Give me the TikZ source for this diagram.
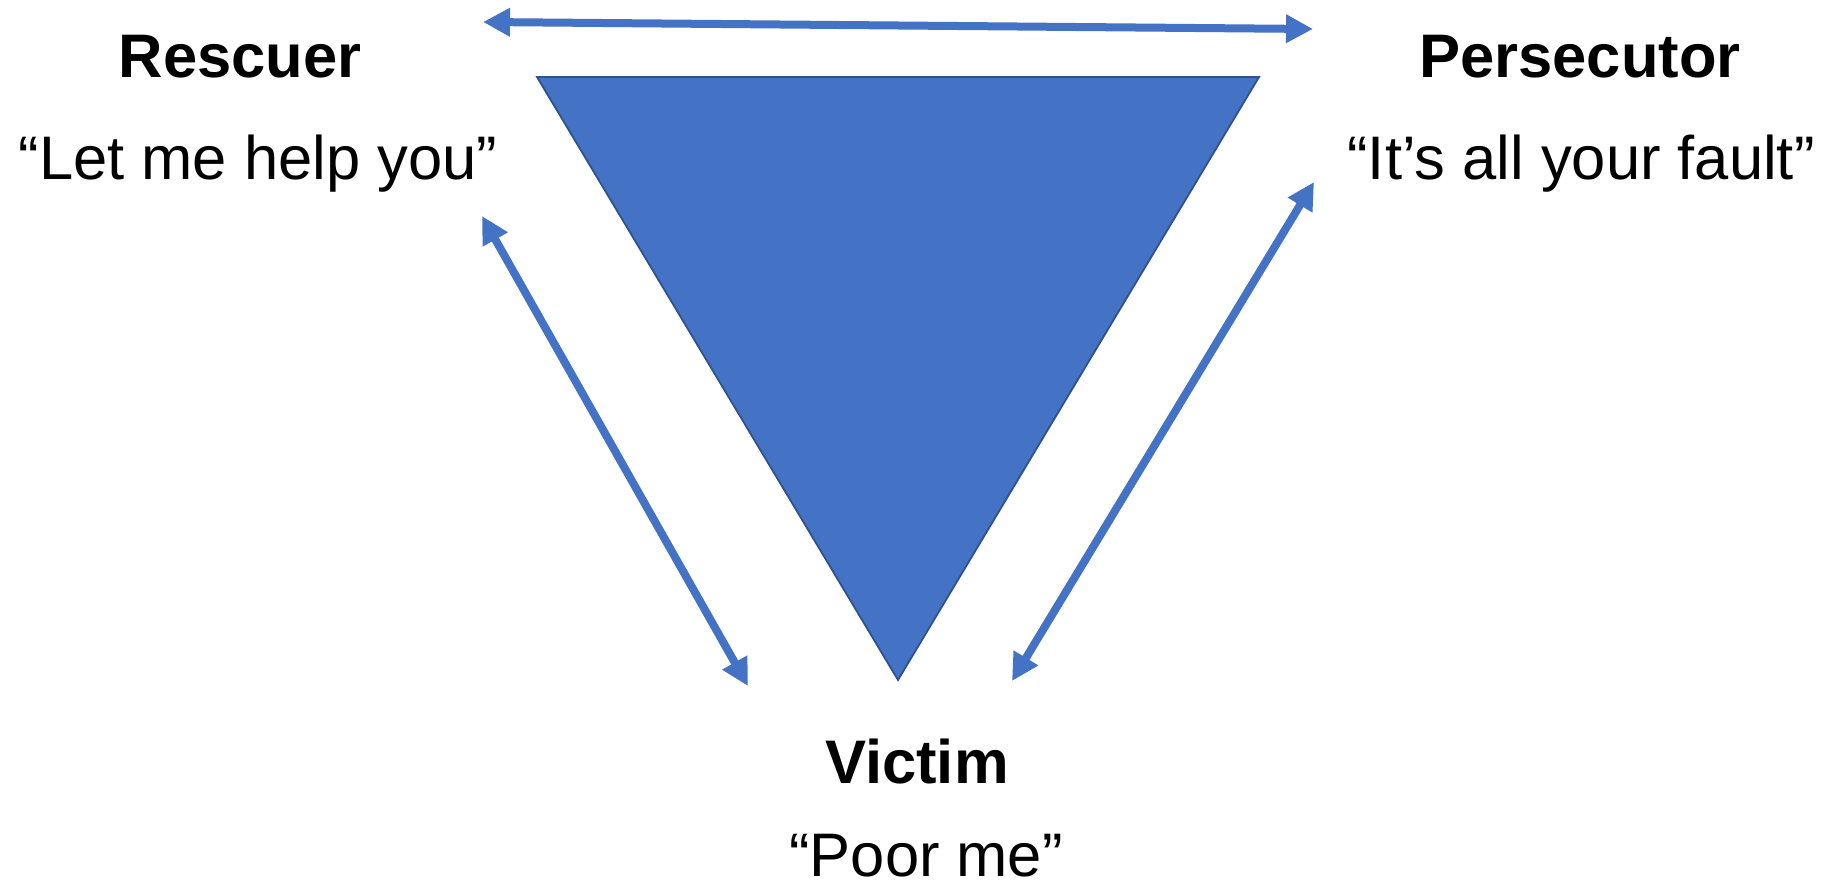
\documentclass[tikz,border=0pt]{standalone}
\usepackage{fontspec}
\setmainfont{Liberation Sans}
\usetikzlibrary{arrows.meta}
\definecolor{kblue}{HTML}{4472C4}
\definecolor{kedge}{HTML}{2F528F}
\tikzset{
  role/.style={font=\fontsize{61.5}{72}\selectfont\bfseries, anchor=base, inner sep=0pt},
  quote/.style={font=\fontsize{61.5}{72}\selectfont, anchor=base, inner sep=0pt},
  dbl/.style={draw=kblue, line width=8pt, {Triangle[length=27pt,width=27pt]}-{Triangle[length=27pt,width=27pt]}},
  tri/.style={fill=kblue, draw=kedge, line width=1.8pt, line join=miter}
}
\begin{document}
\begin{tikzpicture}[x=1pt,y=-1pt]
\useasboundingbox (0,0) rectangle (1844,890);
% triangle
\coordinate (tl) at (537,77);
\coordinate (tr) at (1259,77);
\coordinate (tb) at (898,680);
\draw[tri] (tl) -- (tr) -- (tb) -- cycle;
% labels
\node[role]  (rescuer) at (240,78) {Rescuer};
\node[quote] (rq) at (258,180) {“Let me help you”};
\node[role]  (persec) at (1580,78) {Persecutor};
\node[quote] (pq) at (1581,180) {“It’s all your fault”};
\node[role]  (victim) at (917,783) {Victim};
\node[quote] (vq) at (926,876) {“Poor me”};
% arrow ends
\coordinate (a1) at (483,22);
\coordinate (a2) at (1313,29);
\coordinate (b1) at (482,216);
\coordinate (b2) at (748,686);
\coordinate (c1) at (1314,182);
\coordinate (c2) at (1012,681);
\draw[dbl] (a1) -- (a2);
\draw[dbl] (b1) -- (b2);
\draw[dbl] (c1) -- (c2);
\end{tikzpicture}
\end{document}
